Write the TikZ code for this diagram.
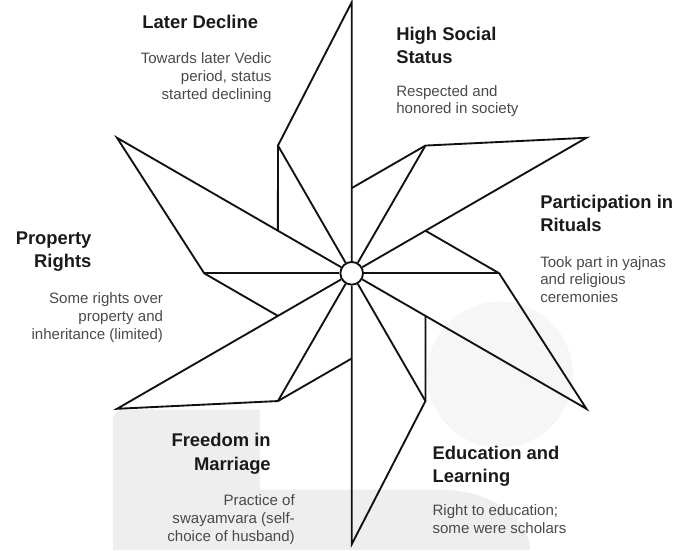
\documentclass[tikz,border=0pt]{standalone}
\usepackage{fontspec}
\setmainfont{Liberation Sans}
\definecolor{inkline}{HTML}{111111}
\definecolor{headtext}{HTML}{1A1A1A}
\definecolor{bodytext}{HTML}{4A4A4A}
\definecolor{markgray}{HTML}{EEEEEE}
\definecolor{marklight}{HTML}{F6F6F6}

\begin{document}
\begin{tikzpicture}[x=0.75pt, y=0.75pt,
		vane/.style={draw=inkline, line width=1.4pt, line join=miter},
		heading/.style={inner sep=0pt, text=headtext, font=\fontsize{13.8}{17.5}\selectfont\bfseries},
		note/.style={inner sep=0pt, text=bodytext, font=\fontsize{11.3}{13.3}\selectfont}]
			\useasboundingbox (-351.7,-276.7) rectangle (328.3,273.3);

			\fill[marklight] (148.3,-101.3) circle (73);
			\fill[markgray] (-238.7,-276.7) -- (-238.7,-146.3) arc[start angle=180, end angle=90, radius=10]
				-- (-91.7,-136.3) -- (-91.7,-216.3) -- (88.3,-216.3)
				arc[start angle=90, end angle=0, x radius=90, y radius=60.4] -- cycle;

			\node[circle, draw=inkline, line width=1.4pt, fill=white, minimum size=17pt, inner sep=0pt] (hub) at (0,0) {};

			\coordinate (t90) at (90:271);
			\coordinate (t150) at (150:271);
			\coordinate (t210) at (210:271);
			\coordinate (t270) at (270:271);
			\coordinate (t330) at (330:271);
			\coordinate (t30) at (30:271);
			\coordinate (c120) at (120:147.5);
			\coordinate (c180) at (180:147.5);
			\coordinate (c240) at (240:147.5);
			\coordinate (c300) at (300:147.5);
			\coordinate (c0) at (0:147.5);
			\coordinate (c60) at (60:147.5);
			\coordinate (m150) at (150:85.2);
			\coordinate (m210) at (210:85.2);
			\coordinate (m270) at (270:85.2);
			\coordinate (m330) at (330:85.2);
			\coordinate (m30) at (30:85.2);
			\coordinate (m90) at (90:85.2);

			\draw[vane] (m150) -- (c120) -- (t90) -- (hub);
			\draw[vane] (m210) -- (c180) -- (t150) -- (hub);
			\draw[vane] (m270) -- (c240) -- (t210) -- (hub);
			\draw[vane] (m330) -- (c300) -- (t270) -- (hub);
			\draw[vane] (m30) -- (c0) -- (t330) -- (hub);
			\draw[vane] (m90) -- (c60) -- (t30) -- (hub);
			\path[vane]
			(hub) edge (c120)
			(hub) edge (c180)
			(hub) edge (c240)
			(hub) edge (c300)
			(hub) edge (c0)
			(hub) edge (c60);

			\node[heading, anchor=north east, align=right] (declinehead) at (-93.4,258.4) {Later Decline};
			\node[note, anchor=north east, align=right] (declinenote) at (-80,220.7) {Towards later Vedic\\period, status\\started declining};
			\node[heading, anchor=north west, align=left] (statushead) at (44.3,246.7) {High Social\\Status};
			\node[note, anchor=north west, align=left] (statusnote) at (44.3,188.4) {Respected and\\honored in society};
			\node[heading, anchor=north west, align=left] (ritualhead) at (188.3,78.4) {Participation in\\Rituals};
			\node[note, anchor=north west, align=left] (ritualnote) at (188.3,17.4) {Took part in yajnas\\and religious\\ceremonies};
			\node[heading, anchor=north east, align=right] (propertyhead) at (-260,41.7) {Property\\Rights};
			\node[note, anchor=north east, align=right] (propertynote) at (-188.4,-19.3) {Some rights over\\property and\\inheritance (limited)};
			\node[heading, anchor=north east, align=right] (marriagehead) at (-80.7,-160) {Freedom in\\Marriage};
			\node[note, anchor=north east, align=right] (marriagenote) at (-56.7,-221.3) {Practice of\\swayamvara (self-\\choice of husband)};
			\node[heading, anchor=north west, align=left] (learninghead) at (80.6,-172.6) {Education and\\Learning};
			\node[note, anchor=north west, align=left] (learningnote) at (80.6,-231) {Right to education;\\some were scholars};
		\end{tikzpicture}
\end{document}
